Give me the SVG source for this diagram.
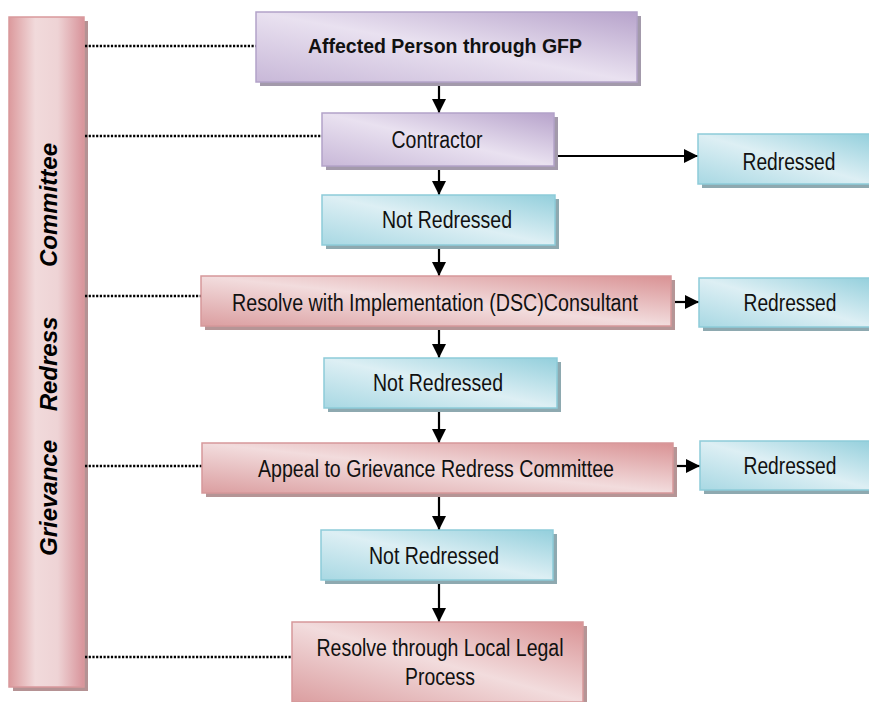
<svg xmlns="http://www.w3.org/2000/svg" width="869" height="702" viewBox="0 0 869 702">
<defs>
<linearGradient id="gBar" x1="0" y1="0" x2="1" y2="0">
<stop offset="0" stop-color="#dc9a9d"/><stop offset="0.35" stop-color="#f1dadb"/><stop offset="0.65" stop-color="#eed3d5"/><stop offset="1" stop-color="#d8939a"/>
</linearGradient>
<linearGradient id="gPurple" x1="1" y1="0" x2="0" y2="1">
<stop offset="0" stop-color="#b7a3cb"/><stop offset="0.5" stop-color="#e9e1f0"/><stop offset="1" stop-color="#c8b8d8"/>
</linearGradient>
<linearGradient id="gBlue" x1="1" y1="0" x2="0" y2="1">
<stop offset="0" stop-color="#93cfdc"/><stop offset="0.5" stop-color="#ddeff4"/><stop offset="1" stop-color="#a8d8e3"/>
</linearGradient>
<linearGradient id="gPink" x1="1" y1="0" x2="0" y2="1">
<stop offset="0" stop-color="#d99294"/><stop offset="0.5" stop-color="#f2dcdd"/><stop offset="1" stop-color="#db9ea0"/>
</linearGradient>
<marker id="arr" markerUnits="userSpaceOnUse" markerWidth="15" markerHeight="15" refX="14" refY="7" orient="auto">
<path d="M0,0 L14,7 L0,14 Z" fill="#000"/>
</marker>
</defs>
<style>
.sp{fill:#a39aab}
.sb{fill:#8ea9b0}
.sk{fill:#b59596}
.bp{fill:url(#gPurple);stroke:#b3a3c9;stroke-width:1.5}
.bb{fill:url(#gBlue);stroke:#8dcbd9;stroke-width:1.5}
.bk{fill:url(#gPink);stroke:#d6989a;stroke-width:1.5}
.t{font-family:"Liberation Sans",Arial,sans-serif;font-size:23px;fill:#111;text-anchor:middle}
.tb{font-family:"Liberation Sans",Arial,sans-serif;font-size:19.5px;font-weight:bold;fill:#111;text-anchor:middle}
.tv{font-family:"Liberation Sans",Arial,sans-serif;font-size:24px;font-weight:bold;font-style:italic;fill:#000;text-anchor:middle}
.dot{stroke:#000;stroke-width:2.5;stroke-dasharray:2.2 1.5;fill:none}
.ln{stroke:#000;stroke-width:2.2;fill:none;marker-end:url(#arr)}
</style>

<g id="bar">
<rect x="13" y="21" width="75" height="670" fill="#b59294"/>
<rect x="9" y="17" width="75" height="670" fill="url(#gBar)" stroke="#d9999c" stroke-width="1.5"/>
<text class="tv" transform="translate(57,205) rotate(-90)">Committee</text>
<text class="tv" transform="translate(57,364) rotate(-90)">Redress</text>
<text class="tv" transform="translate(57,498) rotate(-90)">Grievance</text>
</g>

<g id="connectors">
<line class="dot" x1="85" y1="46" x2="256" y2="46"/>
<line class="dot" x1="85" y1="136" x2="322" y2="136"/>
<line class="dot" x1="85" y1="296" x2="201" y2="296"/>
<line class="dot" x1="85" y1="466" x2="202" y2="466"/>
<line class="dot" x1="85" y1="657" x2="292" y2="657"/>
<line class="ln" x1="439" y1="83" x2="439" y2="113"/>
<line class="ln" x1="439" y1="167" x2="439" y2="195"/>
<line class="ln" x1="439" y1="246" x2="439" y2="276"/>
<line class="ln" x1="439" y1="327" x2="439" y2="358"/>
<line class="ln" x1="439" y1="409" x2="439" y2="443"/>
<line class="ln" x1="439" y1="494" x2="439" y2="530"/>
<line class="ln" x1="439" y1="581" x2="439" y2="622"/>
<line class="ln" x1="555" y1="156" x2="698" y2="156"/>
<line class="ln" x1="671" y1="302" x2="699" y2="302"/>
<line class="ln" x1="673" y1="466" x2="700" y2="466"/>
</g>

<g id="n-affected">
<rect class="sp" x="260" y="16" width="381" height="70"/>
<rect class="bp" x="256" y="12" width="381" height="70"/>
<text class="tb" x="445" y="53">Affected Person through GFP</text>
</g>

<g id="n-contractor">
<rect class="sp" x="326" y="117" width="232" height="53"/>
<rect class="bp" x="322" y="113" width="232" height="53"/>
<text class="t" x="437" y="148" textLength="91" lengthAdjust="spacingAndGlyphs">Contractor</text>
</g>

<g id="n-redressed1">
<rect class="sb" x="702" y="138" width="171" height="50"/>
<rect class="bb" x="698" y="134" width="175" height="50"/>
<text class="t" x="789" y="170" textLength="93" lengthAdjust="spacingAndGlyphs">Redressed</text>
</g>

<g id="n-notredressed1">
<rect class="sb" x="326" y="199" width="233" height="50"/>
<rect class="bb" x="322" y="195" width="233" height="50"/>
<text class="t" x="447" y="228" textLength="130" lengthAdjust="spacingAndGlyphs">Not Redressed</text>
</g>

<g id="n-resolve-dsc">
<rect class="sk" x="205" y="280" width="470" height="50"/>
<rect class="bk" x="201" y="276" width="470" height="50"/>
<text class="t" x="435" y="311" textLength="406" lengthAdjust="spacingAndGlyphs">Resolve with Implementation (DSC)Consultant</text>
</g>

<g id="n-redressed2">
<rect class="sb" x="703" y="282" width="170" height="49"/>
<rect class="bb" x="699" y="278" width="175" height="49"/>
<text class="t" x="790" y="311" textLength="93" lengthAdjust="spacingAndGlyphs">Redressed</text>
</g>

<g id="n-notredressed2">
<rect class="sb" x="328" y="362" width="233" height="50"/>
<rect class="bb" x="324" y="358" width="233" height="50"/>
<text class="t" x="438" y="391" textLength="130" lengthAdjust="spacingAndGlyphs">Not Redressed</text>
</g>

<g id="n-appeal">
<rect class="sk" x="206" y="447" width="471" height="50"/>
<rect class="bk" x="202" y="443" width="471" height="50"/>
<text class="t" x="436" y="477" textLength="356" lengthAdjust="spacingAndGlyphs">Appeal to Grievance Redress Committee</text>
</g>

<g id="n-redressed3">
<rect class="sb" x="704" y="445" width="170" height="49"/>
<rect class="bb" x="700" y="441" width="175" height="49"/>
<text class="t" x="790" y="474" textLength="93" lengthAdjust="spacingAndGlyphs">Redressed</text>
</g>

<g id="n-notredressed3">
<rect class="sb" x="325" y="534" width="232" height="50"/>
<rect class="bb" x="321" y="530" width="232" height="50"/>
<text class="t" x="434" y="564" textLength="130" lengthAdjust="spacingAndGlyphs">Not Redressed</text>
</g>

<g id="n-legal">
<rect class="sk" x="296" y="626" width="291" height="80"/>
<rect class="bk" x="292" y="622" width="291" height="80"/>
<text class="t" x="440" y="656" textLength="247" lengthAdjust="spacingAndGlyphs">Resolve through Local Legal</text>
<text class="t" x="440" y="685" textLength="70" lengthAdjust="spacingAndGlyphs">Process</text>
</g>
</svg>
